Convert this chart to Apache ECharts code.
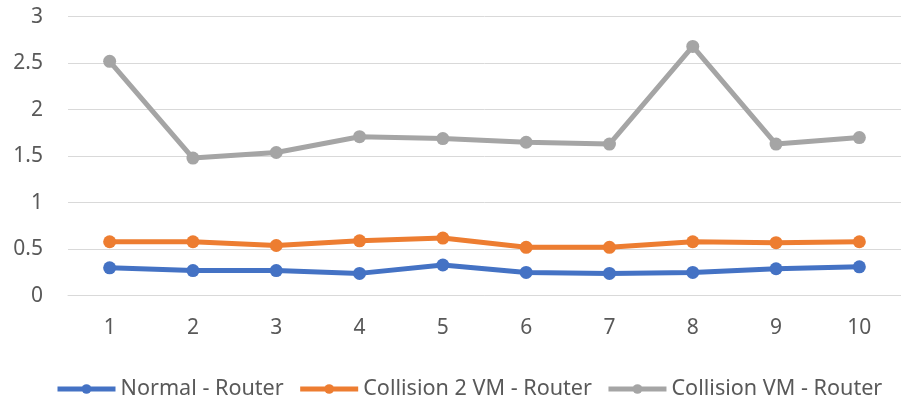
<!DOCTYPE html>
<html>
<head>
<meta charset="utf-8">
<script src="https://cdn.jsdelivr.net/npm/echarts@6/dist/echarts.min.js"></script>
<style>html,body{margin:0;padding:0;background:#fff}#c{width:901px;height:401px}</style>
</head>
<body>
<div id="c"></div>
<script>
var categories = ['1','2','3','4','5','6','7','8','9','10'];
var normalRouter = [0.30, 0.27, 0.27, 0.24, 0.33, 0.25, 0.24, 0.25, 0.29, 0.31];
var collision2VM = [0.58, 0.58, 0.54, 0.59, 0.62, 0.52, 0.52, 0.58, 0.57, 0.58];
var collisionVM = [2.52, 1.48, 1.54, 1.71, 1.69, 1.65, 1.63, 2.68, 1.63, 1.70];
var seriesNames = ['Normal - Router', 'Collision 2 VM - Router', 'Collision VM - Router'];
var colors = ['#4472C4', '#ED7D31', '#A5A5A5'];

var font = 'Noto Sans';
var chart = echarts.init(document.getElementById('c'), null, {renderer: 'canvas'});
function mk(name, data, color) {
  return {
    name: name, type: 'line', data: data,
    symbol: 'circle', symbolSize: 13,
    lineStyle: {width: 5, color: color},
    itemStyle: {color: color},
    emphasis: {disabled: true},
    animation: false
  };
}
chart.setOption({
  animation: false,
  color: colors,
  grid: {left: 68, top: 16.7, width: 835, height: 279, containLabel: false},
  legend: {
    left: 50, top: 373, itemWidth: 58, itemHeight: 12, itemGap: 14,
    lineStyle: {width: 5},
    textStyle: {fontFamily: font, fontSize: 21.6, color: '#595959'},
    data: seriesNames
  },
  xAxis: {
    type: 'category', data: categories, boundaryGap: true,
    axisLine: {show: true, lineStyle: {color: '#D9D9D9', width: 1}},
    axisTick: {show: false},
    axisLabel: {margin: 22, fontFamily: font, fontSize: 21, color: '#595959'}
  },
  yAxis: {
    type: 'value', min: 0, max: 3, interval: 0.5,
    axisLine: {show: false}, axisTick: {show: false},
    splitLine: {lineStyle: {color: '#D9D9D9', width: 1}},
    axisLabel: {margin: 25, fontFamily: font, fontSize: 21, color: '#595959'}
  },
  series: [
    mk(seriesNames[0], normalRouter, colors[0]),
    mk(seriesNames[1], collision2VM, colors[1]),
    mk(seriesNames[2], collisionVM, colors[2])
  ]
});
</script>
</body>
</html>
